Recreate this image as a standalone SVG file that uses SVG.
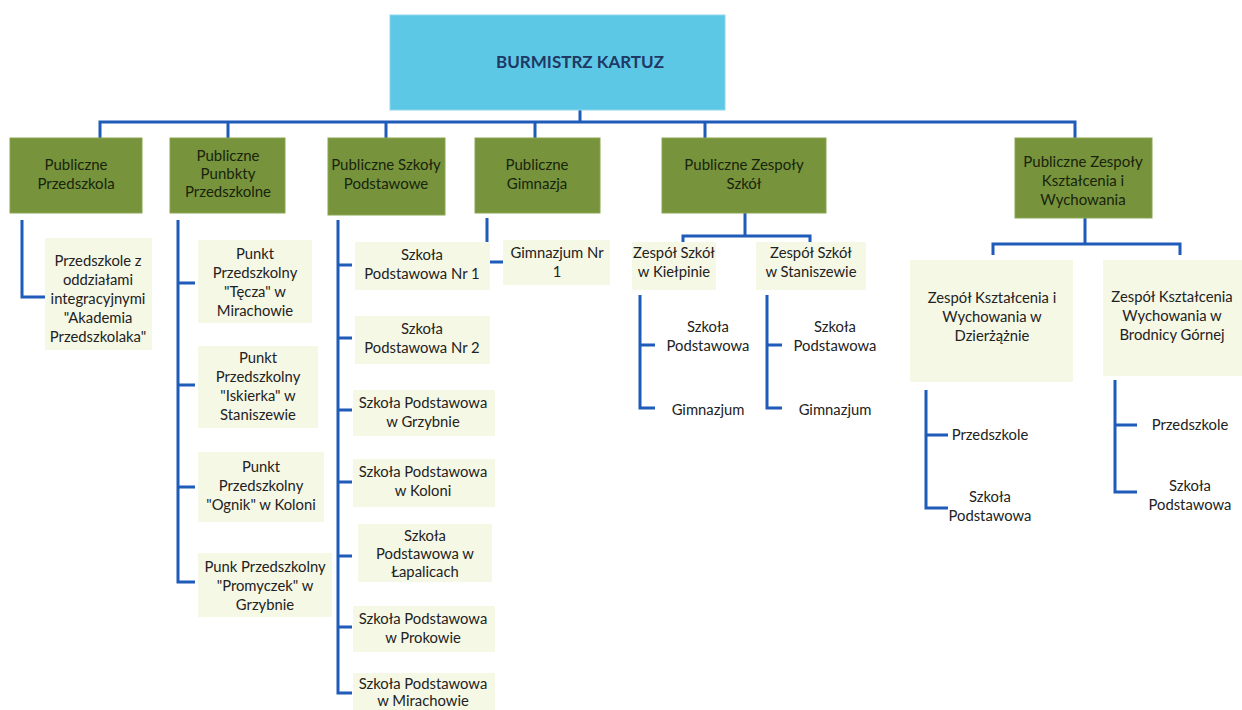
<svg xmlns="http://www.w3.org/2000/svg" width="1242" height="710" viewBox="0 0 1242 710">
<style>
.bg{fill:#ffffff}
.top{fill:#5cc8e6;stroke:#8fd6ec;stroke-width:1}
.grn{fill:#77933c;stroke:#8aa552;stroke-width:1}
.pale{fill:#f6f8e6}
.t{font-family:Lato,"Liberation Sans",sans-serif;font-size:14.8px;fill:#222222;text-anchor:middle}
.tg{font-family:Lato,"Liberation Sans",sans-serif;font-size:15px;fill:#18240c;text-anchor:middle}
.tt{font-family:Lato,"Liberation Sans",sans-serif;font-size:17px;font-weight:bold;fill:#1f3864;text-anchor:middle}
.ln{fill:none;stroke:#1f5bb8;stroke-width:3}
</style>
<rect class="bg" x="0" y="0" width="1242" height="710"/>
<g id="connectors">
<path class="ln" d="M580 110V122M100 138V122H1075V138M228 122V138M386 122V138M535 122V138M705 122V138"/>
<path class="ln" d="M22 220V297H48"/>
<path class="ln" d="M178 220V582H195M178 283H195M178 385H195M178 487H195"/>
<path class="ln" d="M338 220V693H352M338 265H352M338 338H352M338 410H352M338 482H352M338 556H352M338 627H352"/>
<path class="ln" d="M487 218V262H503"/>
<path class="ln" d="M745 213V236M683 244V236H810V244"/>
<path class="ln" d="M640 295V408H655M640 345H655"/>
<path class="ln" d="M767 295V408H782M767 345H782"/>
<path class="ln" d="M1085 218V244M993 255V244H1180V255"/>
<path class="ln" d="M926 390V508H948M926 435H948"/>
<path class="ln" d="M1115 380V492H1137M1115 425H1137"/>
</g>
<g id="burmistrz"><rect class="top" x="390" y="15" width="335" height="95"/><text class="tt" x="580" y="68">BURMISTRZ KARTUZ</text></g>
<g id="przedszkola"><rect class="grn" x="10" y="138" width="132" height="75"/><text class="tg" x="76" y="170">Publiczne<tspan x="76" dy="19">Przedszkola</tspan></text></g>
<g id="punkty"><rect class="grn" x="170" y="138" width="115" height="75"/><text class="tg" x="228" y="161">Publiczne<tspan x="228" dy="18">Punbkty</tspan><tspan x="228" dy="18">Przedszkolne</tspan></text></g>
<g id="szkoly"><rect class="grn" x="328" y="138" width="117" height="77"/><text class="tg" x="386" y="170">Publiczne Szkoły<tspan x="386" dy="19">Podstawowe</tspan></text></g>
<g id="gimnazja"><rect class="grn" x="475" y="138" width="125" height="75"/><text class="tg" x="537" y="170">Publiczne<tspan x="537" dy="19">Gimnazja</tspan></text></g>
<g id="zespoly-szkol"><rect class="grn" x="662" y="138" width="164" height="75"/><text class="tg" x="744" y="170">Publiczne Zespoły<tspan x="744" dy="19">Szkół</tspan></text></g>
<g id="zespoly-ksztalcenia"><rect class="grn" x="1015" y="138" width="137" height="80"/><text class="tg" x="1083" y="167">Publiczne Zespoły<tspan x="1083" dy="19">Kształcenia i</tspan><tspan x="1083" dy="19">Wychowania</tspan></text></g>
<g id="akademia"><rect class="pale" x="45" y="238" width="107" height="112"/><text class="t" x="98" y="266">Przedszkole z<tspan x="98" dy="19">oddziałami</tspan><tspan x="98" dy="19">integracyjnymi</tspan><tspan x="98" dy="19">"Akademia</tspan><tspan x="98" dy="19">Przedszkolaka"</tspan></text></g>
<g id="tecza"><rect class="pale" x="198" y="240" width="114" height="83"/><text class="t" x="255" y="259">Punkt<tspan x="255" dy="19">Przedszkolny</tspan><tspan x="255" dy="19">"Tęcza" w</tspan><tspan x="255" dy="19">Mirachowie</tspan></text></g>
<g id="iskierka"><rect class="pale" x="198" y="346" width="120" height="82"/><text class="t" x="258" y="363">Punkt<tspan x="258" dy="19">Przedszkolny</tspan><tspan x="258" dy="19">"Iskierka" w</tspan><tspan x="258" dy="19">Staniszewie</tspan></text></g>
<g id="ognik"><rect class="pale" x="198" y="452" width="126" height="70"/><text class="t" x="261" y="472">Punkt<tspan x="261" dy="19">Przedszkolny</tspan><tspan x="261" dy="19">"Ognik" w Koloni</tspan></text></g>
<g id="promyczek"><rect class="pale" x="198" y="553" width="134" height="64"/><text class="t" x="265" y="572">Punk Przedszkolny<tspan x="265" dy="19">"Promyczek" w</tspan><tspan x="265" dy="19">Grzybnie</tspan></text></g>
<g id="sp1"><rect class="pale" x="355" y="242" width="135" height="48"/><text class="t" x="422" y="260">Szkoła<tspan x="422" dy="19">Podstawowa Nr 1</tspan></text></g>
<g id="sp2"><rect class="pale" x="355" y="316" width="135" height="48"/><text class="t" x="422" y="334">Szkoła<tspan x="422" dy="19">Podstawowa Nr 2</tspan></text></g>
<g id="sp-grzybno"><rect class="pale" x="353" y="390" width="142" height="46"/><text class="t" x="423" y="408">Szkoła Podstawowa<tspan x="423" dy="19">w Grzybnie</tspan></text></g>
<g id="sp-kolonia"><rect class="pale" x="353" y="459" width="142" height="48"/><text class="t" x="423" y="477">Szkoła Podstawowa<tspan x="423" dy="19">w Koloni</tspan></text></g>
<g id="sp-lapalice"><rect class="pale" x="358" y="524" width="134" height="58"/><text class="t" x="425" y="541">Szkoła<tspan x="425" dy="18">Podstawowa w</tspan><tspan x="425" dy="18">Łapalicach</tspan></text></g>
<g id="sp-prokowo"><rect class="pale" x="353" y="606" width="142" height="46"/><text class="t" x="423" y="624">Szkoła Podstawowa<tspan x="423" dy="19">w Prokowie</tspan></text></g>
<g id="sp-mirachowo"><rect class="pale" x="353" y="673" width="142" height="37"/><text class="t" x="423" y="689">Szkoła Podstawowa<tspan x="423" dy="17">w Mirachowie</tspan></text></g>
<g id="gim1"><rect class="pale" x="503" y="240" width="107" height="45"/><text class="t" x="557" y="258">Gimnazjum Nr<tspan x="557" dy="19">1</tspan></text></g>
<g id="zs-kielpino"><rect class="pale" x="632" y="242" width="84" height="48"/><text class="t" x="674" y="258">Zespół Szkół<tspan x="674" dy="19">w Kiełpinie</tspan></text></g>
<g id="zs-staniszewo"><rect class="pale" x="756" y="242" width="110" height="48"/><text class="t" x="811" y="258">Zespół Szkół<tspan x="811" dy="19">w Staniszewie</tspan></text></g>
<g id="zs-k-sp"><text class="t" x="708" y="332">Szkoła<tspan x="708" dy="19">Podstawowa</tspan></text></g>
<g id="zs-k-gim"><text class="t" x="708" y="415">Gimnazjum</text></g>
<g id="zs-s-sp"><text class="t" x="835" y="332">Szkoła<tspan x="835" dy="19">Podstawowa</tspan></text></g>
<g id="zs-s-gim"><text class="t" x="835" y="415">Gimnazjum</text></g>
<g id="zkw-dzierzazno"><rect class="pale" x="910" y="260" width="163" height="122"/><text class="t" x="992" y="303">Zespół Kształcenia i<tspan x="992" dy="19">Wychowania w</tspan><tspan x="992" dy="19">Dzierżążnie</tspan></text></g>
<g id="zkw-brodnica"><rect class="pale" x="1103" y="260" width="139" height="116"/><text class="t" x="1172" y="302">Zespół Kształcenia<tspan x="1172" dy="19">Wychowania w</tspan><tspan x="1172" dy="19">Brodnicy Górnej</tspan></text></g>
<g id="zkw-d-p"><text class="t" x="990" y="440">Przedszkole</text></g>
<g id="zkw-d-sp"><text class="t" x="990" y="502">Szkoła<tspan x="990" dy="19">Podstawowa</tspan></text></g>
<g id="zkw-b-p"><text class="t" x="1190" y="430">Przedszkole</text></g>
<g id="zkw-b-sp"><text class="t" x="1190" y="491">Szkoła<tspan x="1190" dy="19">Podstawowa</tspan></text></g>
</svg>
